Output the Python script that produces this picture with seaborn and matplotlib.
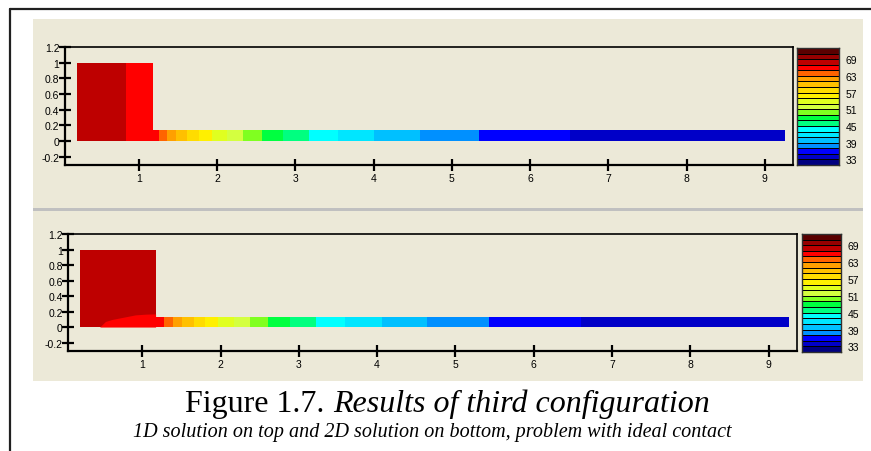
import numpy as np
import matplotlib
matplotlib.use("Agg")
import matplotlib.pyplot as plt
import seaborn as sns
from matplotlib.colors import ListedColormap
from matplotlib.lines import Line2D
from matplotlib.patches import Rectangle

# ---------------- data ----------------
# colour bands of the legend, top (hot) to bottom (cold)
band_colors = ["#5A0000", "#960000", "#BE0000", "#FF0000", "#FF6400", "#FFA000",
               "#FFC000", "#FFDC00", "#FFF000", "#E0FF20", "#D4FF40", "#80FF20",
               "#00FF40", "#00FF80", "#00FFFF", "#00E6FF", "#00C0FF", "#0090FF",
               "#0000FF", "#0000C8", "#000080"]
level_top = 73          # upper value of the legend
level_step = 2          # width of one band
cbar_labels = [69, 63, 57, 51, 45, 39, 33]

# 1D solution (top)
top_block_edges = [0.204, 0.83, 1.175]
top_block_temps = [68, 66]
top_block_height = 1.0
top_strip_edges = [1.175, 1.255, 1.36, 1.47, 1.61, 1.77, 1.94, 2.13, 2.33, 2.57,
                   2.84, 3.17, 3.55, 4.01, 4.59, 5.35, 6.51, 9.26]
top_strip_temps = [66, 64, 62, 60, 58, 56, 54, 52, 50, 48, 46, 44, 42, 40, 38, 36, 34]
top_strip_height = 0.14

# 2D solution (bottom)
bot_block_edges = [0.21, 1.17]
bot_block_temps = [68]
bot_block_height = 1.0
bot_hot_x = [0.456, 0.529, 0.614, 0.70, 0.806, 0.912, 1.04, 1.17]
bot_hot_y = [0.0, 0.072, 0.098, 0.115, 0.136, 0.157, 0.166, 0.17]
bot_hot_temp = 66
bot_strip_edges = [1.17, 1.273, 1.388, 1.512, 1.656, 1.797, 1.963, 2.167, 2.372, 2.61,
                   2.89, 3.22, 3.594, 4.066, 4.64, 5.424, 6.608, 9.265]
bot_strip_temps = [66, 64, 62, 60, 58, 56, 54, 52, 50, 48, 46, 44, 42, 40, 38, 36, 34]
bot_strip_height = 0.135

x_ticks = [1, 2, 3, 4, 5, 6, 7, 8, 9]
y_ticks = [-0.2, 0, 0.2, 0.4, 0.6, 0.8, 1.0, 1.2]
y_ticklabels = ["-0.2", "0", "0.2", "0.4", "0.6", "0.8", "1", "1.2"]

title_main = "Figure 1.7. "
title_ital = "Results of third configuration"
subtitle = "1D solution on top and 2D solution on bottom, problem with ideal contact"

# ---------------- style ----------------
sns.set_style("white")
plt.rcParams["font.family"] = ["Liberation Sans", "DejaVu Sans"]
plt.rcParams["text.color"] = "black"
plt.rcParams["xtick.color"] = "black"
plt.rcParams["ytick.color"] = "black"

W, H = 871, 452
fig = plt.figure(figsize=(W / 100, H / 100), dpi=100)
fig.patch.set_facecolor("white")
BEIGE = "#ECE9D8"


def fbox(x0, y0, x1, y1):
    """pixel box (top-left origin) -> figure fraction [l, b, w, h]"""
    return [x0 / W, (H - y1) / H, (x1 - x0) / W, (y1 - y0) / H]


def temp_color(t):
    idx = int((level_top - t) // level_step)
    return band_colors[idx]


# beige panel and frame
fig.add_artist(Rectangle((33 / W, (H - 382) / H), (863 - 33) / W, (382 - 20) / H,
                         transform=fig.transFigure, facecolor=BEIGE, edgecolor="none", zorder=0))
fig.add_artist(Rectangle((33 / W, (H - 212) / H), (863 - 33) / W, 3 / H,
                         transform=fig.transFigure, facecolor="#C0C0C0", edgecolor="none", zorder=1))
fig.add_artist(Line2D([10 / W, 1.0], [(H - 10) / H, (H - 10) / H], transform=fig.transFigure,
                      color="#202020", lw=1.6))
fig.add_artist(Line2D([10 / W, 10 / W], [(H - 10) / H, 0], transform=fig.transFigure,
                      color="#202020", lw=1.6))


def style_axes(ax):
    ax.set_facecolor(BEIGE)
    ax.set_xlim(0.055, 9.36)
    ax.set_ylim(-0.305, 1.2)
    ax.set_xticks(x_ticks)
    ax.set_xticklabels([str(v) for v in x_ticks])
    ax.set_yticks(y_ticks)
    ax.set_yticklabels(y_ticklabels)
    ax.tick_params(bottom=True, left=True, direction="inout", length=8, width=1.6,
                   labelsize=7.5, pad=0, colors="black", labelcolor="black")
    ax.tick_params(axis="x", pad=2)
    for s in ax.spines.values():
        s.set_visible(True)
        s.set_color("black")
        s.set_linewidth(1.6)
    ax.spines["top"].set_linewidth(1.2)
    ax.spines["right"].set_linewidth(1.2)


def draw_bars(ax, edges, temps, height):
    edges = np.asarray(edges)
    ax.bar(edges[:-1], height, width=np.diff(edges), align="edge",
           color=[temp_color(t) for t in temps], linewidth=0, zorder=2)


def draw_cbar(cax):
    data = np.arange(len(band_colors)).reshape(-1, 1)
    sns.heatmap(data, ax=cax, cmap=ListedColormap(band_colors), vmin=-0.5,
                vmax=len(band_colors) - 0.5, cbar=False, linewidths=0.55,
                linecolor="black", xticklabels=False, yticklabels=False)
    for s in cax.spines.values():
        s.set_visible(True)
        s.set_color("#303030")
        s.set_linewidth(1.0)
    cax.yaxis.tick_right()
    cax.set_yticks([(level_top - v) / level_step for v in cbar_labels])
    cax.set_yticklabels([str(v) for v in cbar_labels])
    cax.tick_params(axis="y", length=0, labelsize=7.5, pad=5, labelright=True,
                    labelleft=False, labelcolor="black")
    cax.set_xticks([])


# top panel
ax1 = fig.add_axes(fbox(65, 48, 793, 166))
style_axes(ax1)
draw_bars(ax1, top_block_edges, top_block_temps, top_block_height)
draw_bars(ax1, top_strip_edges, top_strip_temps, top_strip_height)
cax1 = fig.add_axes(fbox(797, 49, 839, 166))
draw_cbar(cax1)

# bottom panel
ax2 = fig.add_axes(fbox(68.3, 235, 796.7, 351.7))
style_axes(ax2)
draw_bars(ax2, bot_block_edges, bot_block_temps, bot_block_height)
ax2.fill_between(bot_hot_x, 0, bot_hot_y, color=temp_color(bot_hot_temp), linewidth=0, zorder=3)
draw_bars(ax2, bot_strip_edges, bot_strip_temps, bot_strip_height)
cax2 = fig.add_axes(fbox(802, 235, 841, 353))
draw_cbar(cax2)

# caption
serif = ["Liberation Serif", "DejaVu Serif"]
t1 = fig.text(0, 0, title_main, fontsize=23, family=serif, color="black")
t2 = fig.text(0, 0, title_ital, fontsize=23, family=serif, style="italic", color="black")
fig.canvas.draw()
r = fig.canvas.get_renderer()
w1 = t1.get_window_extent(r).width
w2 = t2.get_window_extent(r).width
cx = 447.5
start = cx - (w1 + w2) / 2
yb = (H - 412) / H
t1.set_position((start / W, yb))
t2.set_position(((start + w1) / W, yb))
t1.set_va("baseline")
t2.set_va("baseline")
fig.text(432 / W, (H - 433) / H, subtitle, fontsize=14.5, family=serif, style="italic",
         ha="center", va="center", color="black")

fig.savefig("out.png", dpi=100)
